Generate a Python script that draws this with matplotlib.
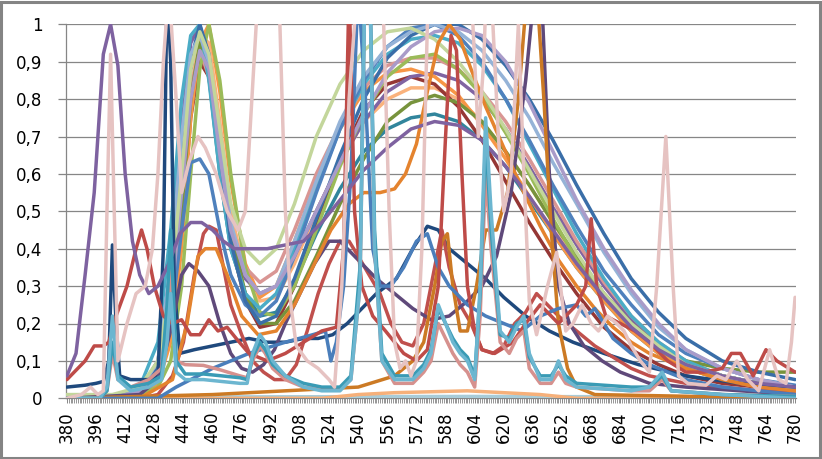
import matplotlib
matplotlib.use("Agg")
import matplotlib.pyplot as plt
from matplotlib.patches import Rectangle

# ---------------- data (wavelength nm -> relative value) ----------------
x_labels = list(range(380, 781, 16))
y_ticks = [0, 0.1, 0.2, 0.3, 0.4, 0.5, 0.6, 0.7, 0.8, 0.9, 1.0]
y_labels = ["0", "0,1", "0,2", "0,3", "0,4", "0,5", "0,6", "0,7", "0,8", "0,9", "1"]

led_nm = [380, 405, 420, 430, 437, 443, 448, 453, 458, 464, 470, 478, 486, 495, 505, 517, 530,
          543, 556, 569, 582, 595, 608, 621, 634, 647, 660, 675, 690, 705, 720, 740, 760, 780]
lgreen = [.01, .01, .03, .10, .30, .60, .88, .98, .92, .72, .52, .40, .36, .40, .52, .70, .84,
          .93, .98, .99, .96, .90, .82, .72, .61, .50, .39, .28, .20, .14, .09, .06, .04, .025]
blue1 = [0, 0, .02, .06, .20, .45, .63, .64, .60, .45, .33, .25, .22, .26, .38, .55, .72,
         .85, .94, .99, 1.0, .97, .90, .80, .69, .57, .46, .34, .25, .17, .12, .08, .05, .035]
steel = [0, 0, .02, .08, .30, .65, .90, 1.0, .92, .66, .42, .26, .20, .22, .32, .48, .65,
         .80, .91, .97, 1.0, 1.0, .96, .89, .80, .69, .57, .44, .32, .23, .16, .10, .07, .05]
lavender = [0, 0, .02, .07, .25, .55, .80, .93, .88, .65, .45, .33, .28, .30, .38, .50, .63,
            .76, .87, .94, .98, .99, .97, .90, .79, .66, .53, .40, .29, .20, .13, .08, .05, .03]
lightblue = [0, 0, .02, .10, .35, .70, .92, .97, .90, .68, .47, .33, .28, .30, .42, .58, .74,
             .86, .94, .98, 1.0, .98, .93, .85, .75, .63, .52, .39, .28, .19, .13, .08, .05, .03]
aqua = [0, 0, .03, .15, .45, .80, .97, 1.0, .85, .60, .40, .28, .24, .28, .40, .56, .72,
        .84, .92, .96, .97, .95, .89, .80, .68, .56, .44, .32, .22, .15, .10, .06, .04, .025]
green = [0, 0, .01, .03, .10, .30, .60, .88, 1.0, .85, .60, .35, .23, .22, .30, .45, .62,
         .76, .86, .91, .92, .88, .81, .71, .60, .48, .37, .27, .19, .13, .09, .06, .04, .03]
green2 = [0, 0, .02, .06, .20, .50, .80, .95, .90, .68, .45, .28, .20, .20, .26, .38, .52,
          .64, .74, .79, .81, .79, .74, .66, .57, .47, .38, .28, .20, .14, .10, .08, .07, .07]
mauve = [0, 0, .02, .08, .28, .58, .83, .93, .86, .64, .46, .35, .31, .34, .45, .60, .73,
         .83, .89, .91, .91, .88, .82, .74, .64, .53, .42, .31, .22, .15, .10, .06, .04, .03]
orange = [0, 0, .01, .04, .15, .40, .75, .95, 1.0, .82, .58, .36, .27, .30, .42, .58, .72,
          .82, .87, .88, .86, .81, .73, .64, .54, .44, .35, .26, .18, .12, .08, .05, .03, .02]
purple1 = [0, 0, .02, .10, .35, .72, .95, 1.0, .88, .62, .43, .32, .28, .30, .38, .50, .63,
           .74, .82, .86, .87, .85, .80, .72, .62, .51, .41, .30, .21, .14, .09, .06, .04, .03]
darkred = [0, 0, .01, .05, .18, .45, .75, .90, .86, .64, .42, .26, .19, .20, .30, .47, .64,
           .77, .84, .86, .84, .78, .69, .58, .47, .37, .28, .19, .13, .09, .06, .04, .03, .02]
lorange = [0, 0, .01, .05, .20, .50, .82, .97, .95, .74, .50, .33, .26, .27, .36, .50, .63,
           .74, .80, .83, .83, .80, .74, .66, .57, .47, .37, .28, .20, .14, .09, .06, .04, .03]
teal = [0, 0, .02, .08, .30, .65, .88, .95, .86, .60, .40, .28, .22, .23, .31, .44, .56,
        .66, .72, .75, .76, .74, .69, .62, .53, .44, .35, .26, .18, .12, .08, .05, .04, .03]

violet_nm = [380, 385, 390, 395, 400, 404, 408, 412, 416, 420, 425, 430, 436, 442, 448, 454, 460,
             466, 472, 480, 490, 500, 510, 520, 530, 543, 556, 569, 582, 595, 608, 621, 634, 647,
             660, 675, 690, 705, 720, 740, 760, 780]
violet = [.06, .12, .33, .55, .92, 1.0, .89, .6, .42, .33, .28, .3, .36, .44, .47, .47, .45,
          .42, .4, .4, .4, .41, .42, .47, .53, .61, .67, .72, .74, .73, .69, .62, .54, .45,
          .36, .27, .19, .13, .09, .06, .04, .03]

dpurple_nm = [380, 420, 430, 438, 443, 447, 452, 458, 464, 470, 476, 482, 488, 494, 500, 508,
              516, 524, 530, 540, 550, 560, 570, 580, 590, 600, 608, 616, 624, 632, 637, 641,
              645, 650, 656, 664, 674, 684, 700, 720, 750, 780]
dpurple = [.0, .01, .05, .2, .33, .36, .34, .3, .2, .12, .08, .07, .09, .13, .2, .28,
           .36, .42, .42, .37, .32, .28, .24, .21, .22, .26, .3, .38, .55, .85, 1.1, 1.05,
           .6, .3, .2, .14, .1, .07, .04, .03, .02, .01]

navy_nm = [380, 390, 396, 400, 403, 405, 407, 409, 415, 425, 430, 433, 435, 437, 439, 442, 450,
           460, 470, 480, 490, 500, 510, 518, 526, 534, 542, 550, 561, 570, 578, 584, 590, 600,
           610, 620, 632, 645, 658, 675, 694, 720, 750, 780]
navy = [.03, .035, .04, .045, .1, .41, .2, .06, .05, .05, .06, .4, 1.1, .9, .3, .12, .13,
        .14, .15, .16, .15, .15, .16, .16, .17, .2, .24, .28, .32, .4, .46, .45, .4, .36,
        .32, .27, .22, .18, .15, .12, .09, .06, .04, .03]

redA_nm = [380, 390, 395, 400, 403, 407, 413, 418, 421, 424, 428, 433, 438, 443, 448, 453, 458,
           463, 468, 473, 480, 490, 500, 510, 520, 528, 532, 535, 538, 542, 548, 555, 565, 572,
           578, 584, 588, 591, 594, 597, 600, 604, 608, 615, 625, 632, 640, 650, 660, 665, 668,
           671, 676, 684, 692, 700, 710, 720, 730, 740, 745, 750, 757, 764, 770, 780]
redA = [.05, .1, .14, .14, .15, .22, .3, .4, .45, .4, .3, .22, .2, .21, .17, .17, .21,
        .18, .19, .16, .12, .1, .12, .15, .18, .19, .4, 1.1, .5, .3, .22, .18, .12, .1,
        .13, .3, .7, .97, .93, .6, .3, .18, .13, .12, .15, .2, .25, .2, .25, .3, .48,
        .3, .22, .2, .18, .15, .1, .07, .07, .08, .12, .12, .06, .13, .1, .07]

redB_nm = [380, 420, 430, 438, 444, 450, 455, 458, 462, 466, 470, 476, 482, 488, 494, 500, 506,
           512, 518, 524, 530, 535, 540, 546, 552, 558, 564, 570, 576, 582, 586, 590, 596, 602,
           608, 614, 620, 626, 632, 638, 644, 650, 660, 670, 680, 690, 700, 720, 740, 760, 780]
redB = [0, 0, .01, .06, .15, .33, .44, .46, .45, .35, .25, .17, .1, .07, .05, .05, .09,
        .18, .28, .36, .42, .42, .38, .33, .28, .2, .15, .14, .2, .35, .45, .35, .25, .2,
        .13, .12, .14, .2, .23, .28, .25, .22, .18, .14, .11, .08, .06, .04, .03, .02, .02]

odk_nm = [380, 420, 438, 446, 452, 456, 462, 468, 476, 485, 495, 505, 515, 525, 535, 543, 552,
          560, 566, 572, 578, 584, 590, 596, 602, 610, 620, 630, 640, 650, 660, 670, 680, 690,
          700, 720, 740, 760, 780]
odk = [0, 0, .05, .2, .38, .4, .4, .33, .22, .17, .18, .25, .35, .45, .52, .55, .55,
       .56, .6, .68, .82, .95, 1.0, .96, .88, .78, .67, .56, .46, .37, .3, .24, .19, .15,
       .12, .08, .05, .03, .02]

o2_nm = [380, 460, 500, 540, 560, 570, 576, 582, 586, 589, 592, 596, 600, 605, 610, 616, 622,
         628, 633, 638, 642, 646, 650, 655, 660, 670, 780]
o2 = [0, .01, .02, .03, .06, .1, .15, .3, .42, .44, .3, .18, .18, .3, .45, .45, .55,
      .8, 1.1, 1.1, .8, .45, .2, .08, .03, .01, 0]

bb_nm = [380, 430, 440, 460, 480, 500, 515, 522, 525, 528, 532, 536, 540, 544, 548, 552, 558,
         565, 572, 578, 584, 590, 600, 610, 620, 630, 640, 650, 660, 665, 670, 675, 680, 690,
         700, 720, 740, 780]
bb = [0, 0, .03, .08, .12, .15, .17, .18, .1, .15, .3, .6, 1.1, .8, .4, .3, .3,
      .35, .42, .44, .35, .3, .25, .22, .2, .18, .22, .24, .25, .22, .24, .2, .16, .12,
      .09, .05, .03, .01]

fl_nm = [380, 398, 402, 405, 408, 415, 425, 432, 435, 437, 440, 445, 455, 465, 475, 479, 482,
         486, 489, 493, 500, 510, 520, 530, 536, 541, 545, 549, 553, 560, 570, 576, 580, 584,
         588, 592, 596, 600, 604, 607, 610, 613, 618, 623, 627, 631, 634, 640, 646, 650, 654,
         660, 690, 700, 707, 712, 740, 780]
fl_cyan = [0, 0, .03, .22, .05, .02, .03, .05, .15, .28, .07, .05, .05, .045, .04, .04, .12,
           .17, .15, .10, .06, .03, .02, .02, .05, .30, 1.5, .40, .10, .05, .05, .08, .12, .25,
           .2, .15, .12, .10, .05, .30, .75, .50, .18, .15, .19, .22, .12, .05, .05, .10, .05,
           .03, .02, .03, .07, .02, .01, 0]
fl_teal = [0, 0, .02, .15, .06, .03, .04, .06, .25, .45, .10, .065, .065, .06, .055, .05, .11,
           .15, .13, .09, .06, .04, .03, .03, .06, .35, 1.5, .45, .12, .06, .06, .09, .13, .24,
           .2, .16, .13, .11, .06, .28, .7, .45, .17, .16, .2, .21, .11, .06, .06, .09, .06,
           .04, .03, .03, .06, .02, .01, .005]
fl_salmon = [0, 0, .02, .12, .05, .03, .05, .08, .2, .35, .1, .09, .088, .075, .06, .055, .1,
             .14, .12, .08, .05, .03, .025, .025, .05, .3, 1.5, .4, .1, .04, .04, .07, .1, .2,
             .16, .12, .09, .07, .03, .22, .6, .4, .15, .12, .16, .18, .08, .04, .04, .07, .04,
             .03, .02, .02, .05, .02, .01, .005]

pink_nm = [380, 388, 393, 397, 400, 402, 404, 406, 408, 413, 418, 423, 427, 430, 433, 436, 440,
           443, 447, 452, 456, 462, 468, 474, 478, 481, 484, 489, 494, 497, 500, 503, 506, 512,
           518, 524, 527, 531, 535, 538, 546, 554, 557, 560, 563, 566, 569, 572, 575, 578, 590,
           603, 606, 609, 611, 614, 617, 620, 624, 628, 631, 634, 638, 644, 649, 654, 658, 663,
           668, 672, 677, 682, 686, 690, 695, 700, 704, 709, 713, 716, 721, 731, 737, 742, 748,
           754, 760, 766, 771, 775, 778, 780]
pink = [0, .01, .03, .01, .02, .5, .92, .5, .1, .2, .28, .3, .4, .6, .9, 1.1, .8,
        .55, .63, .70, .67, .6, .5, .45, .5, .75, 1.0, 1.4, 1.3, 1.0, .5, .25, .14, .1,
        .08, .05, .03, .3, .8, 1.0, 1.6, 1.0, .5, .15, .08, .1, .06, .1, .4, 1.0, 1.5,
        1.0, .7, .9, 1.2, 1.0, .7, .5, .6, 1.0, .6, .26, .17, .3, .39, .18, .2, .25,
        .2, .18, .22, .2, .18, .14, .1, .07, .3, .7, .3, .06, .04, .035, .06, .05, .1,
        .05, .02, .13, .05, .04, .15, .27]

nz_nm = [380, 500, 600, 700, 780]
nz = [.003, .004, .005, .004, .003]
po_nm = [380, 520, 540, 560, 600, 640, 660, 780]
po = [0, 0, .01, .015, .02, .01, 0, 0]

series = [
    (nz_nm, nz, "#A9CCD8"),
    (po_nm, po, "#F6B07A"),
    (led_nm, teal, "#31859C"),
    (led_nm, lorange, "#FAB27C"),
    (led_nm, darkred, "#953735"),
    (led_nm, purple1, "#8064A2"),
    (led_nm, orange, "#F79646"),
    (led_nm, mauve, "#D99694"),
    (led_nm, green2, "#77933C"),
    (led_nm, green, "#9BBB59"),
    (led_nm, aqua, "#4BACC6"),
    (led_nm, blue1, "#4F81BD"),
    (led_nm, steel, "#3A6EA8"),
    (led_nm, lightblue, "#95B3D7"),
    (led_nm, lavender, "#A99BC9"),
    (led_nm, lgreen, "#C3D69B"),
    (navy_nm, navy, "#1F497D"),
    (redB_nm, redB, "#C0504D"),
    (dpurple_nm, dpurple, "#5F497A"),
    (odk_nm, odk, "#E4832E"),
    (o2_nm, o2, "#CC7A24"),
    (bb_nm, bb, "#4A7EBB"),
    (redA_nm, redA, "#BE4B48"),
    (violet_nm, violet, "#7E62A0"),
    (fl_nm, fl_salmon, "#D6918E"),
    (fl_nm, fl_teal, "#3A9BB5"),
    (fl_nm, fl_cyan, "#6CB6D0"),
    (pink_nm, pink, "#E6C3C2"),
]

# ---------------- figure ----------------
W, H = 822, 459
fig = plt.figure(figsize=(W / 100, H / 100), dpi=100)
fig.patch.set_facecolor("white")
ax = fig.add_axes([66 / W, 1 - 398.3 / H, 730 / W, 374 / H])

for xs, ys, c in series:
    ax.plot(xs, ys, color=c, lw=2.5, solid_joinstyle="round", solid_capstyle="round", zorder=3)

ax.set_xlim(379.5, 780.5)
ax.set_ylim(0, 1)

grid_c = "#868686"
for yv in y_ticks[1:]:
    ax.axhline(yv, color=grid_c, lw=0.9, zorder=1)

ax.set_yticks(y_ticks)
ax.set_yticklabels(y_labels)
ax.set_xticks(x_labels)
ax.set_xticklabels([str(v) for v in x_labels], rotation=90)
ax.set_xticks(list(range(380, 781)), minor=True)

ax.tick_params(axis="y", direction="out", length=6, width=0.9, color=grid_c,
               labelsize=12, pad=11, labelcolor="black")
ax.tick_params(axis="x", which="major", direction="out", length=3.5, width=0.7, color=grid_c,
               labelsize=12, pad=6, labelcolor="black")
ax.tick_params(axis="x", which="minor", direction="out", length=3.5, width=0.6, color=grid_c)

for s in ["top", "right"]:
    ax.spines[s].set_visible(False)
for s in ["left", "bottom"]:
    ax.spines[s].set_color(grid_c)
    ax.spines[s].set_linewidth(0.9)
    ax.spines[s].set_zorder(2)

fig.patches.append(Rectangle((1.2 / W, 1.5 / H), (W - 3.5) / W, (H - 3.5) / H,
                             transform=fig.transFigure, fill=False,
                             edgecolor="#848484", lw=2.2))

fig.savefig("out.png", dpi=100, facecolor="white")
